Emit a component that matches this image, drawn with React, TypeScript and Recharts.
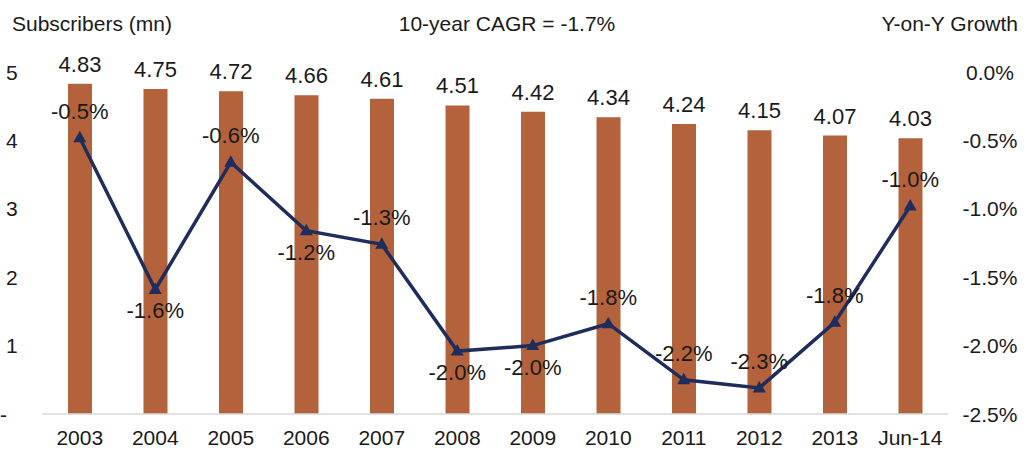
import { ComposedChart, Bar, Line, XAxis, YAxis, LabelList } from "recharts";

// --- Data ---
const years = ["2003", "2004", "2005", "2006", "2007", "2008", "2009", "2010", "2011", "2012", "2013", "Jun-14"];
const subscribers = [4.83, 4.75, 4.72, 4.66, 4.61, 4.51, 4.42, 4.34, 4.24, 4.15, 4.07, 4.03];
const growth = [-0.48, -1.59, -0.66, -1.16, -1.26, -2.04, -2.0, -1.84, -2.25, -2.31, -1.83, -0.98];
const growthLabels = ["-0.5%", "-1.6%", "-0.6%", "-1.2%", "-1.3%", "-2.0%", "-2.0%", "-1.8%", "-2.2%", "-2.3%", "-1.8%", "-1.0%"];
const leftTicks = [0, 1, 2, 3, 4, 5];
const rightTicks = [0, -0.5, -1, -1.5, -2, -2.5];

const FONT = '"Liberation Sans", Arial, sans-serif';
const BAR = "#B4623B";
const NAVY = "#1F2D5C";
const TEXT = "#1a1a1a";

// growth labels drawn under the point instead of above
const BELOW = new Set(["2004", "2006", "2008", "2009"]);

const rows = years.map((y, i) => ({
  year: y,
  subs: subscribers[i],
  growth: growth[i],
  growthLabel: growthLabels[i],
}));

function LeftTick({ y, payload }: any) {
  const v = payload.value;
  return (
    <text x={v === 0 ? 0 : 6} y={y} dy="0.36em" fontSize={21} fontFamily={FONT} fill={TEXT}>
      {v === 0 ? "-" : v}
    </text>
  );
}

function RightTick({ y, payload }: any) {
  return (
    <text x={990} y={y} dy="0.36em" textAnchor="middle" fontSize={21} fontFamily={FONT} fill={TEXT}>
      {payload.value.toFixed(1) + "%"}
    </text>
  );
}

function BottomTick({ x, payload }: any) {
  return (
    <text x={x} y={445} textAnchor="middle" fontSize={21} fontFamily={FONT} fill={TEXT}>
      {payload.value}
    </text>
  );
}

function Triangle({ cx, cy }: any) {
  if (cx == null || cy == null) return null;
  return <polygon points={`${cx},${cy - 7} ${cx - 6.5},${cy + 4.5} ${cx + 6.5},${cy + 4.5}`} fill={NAVY} />;
}

function BarValue({ x, y, width, value }: any) {
  return (
    <text x={x + width / 2} y={y - 20} dy="0.36em" textAnchor="middle" fontSize={22} fontFamily={FONT} fill={TEXT}>
      {Number(value).toFixed(2)}
    </text>
  );
}

function GrowthValue({ x, y, index }: any) {
  const r = rows[index];
  const below = BELOW.has(r.year);
  return (
    <text x={x} y={below ? y + 21 : y - 27} dy="0.36em" textAnchor="middle" fontSize={22} fontFamily={FONT} fill={TEXT}>
      {r.growthLabel}
    </text>
  );
}

const titleStyle = {
  position: "absolute" as const,
  top: 13,
  fontSize: 21,
  lineHeight: "21px",
  fontFamily: FONT,
  color: TEXT,
  whiteSpace: "nowrap" as const,
};

export default function App() {
  return (
    <div style={{ position: "absolute", left: 0, top: 0, width: 1030, height: 450, background: "#fff" }}>
      <ComposedChart
        width={1030}
        height={450}
        data={rows}
        margin={{ top: 72, right: 0, bottom: 0, left: 0 }}
        barCategoryGap={0}
      >
        <XAxis
          dataKey="year"
          height={36}
          tickLine={false}
          axisLine={{ stroke: "#d9d9d9", strokeWidth: 1.5 }}
          tick={<BottomTick />}
          interval={0}
        />
        <YAxis
          yAxisId="left"
          width={42}
          domain={[0, 5]}
          ticks={leftTicks}
          axisLine={false}
          tickLine={false}
          tick={<LeftTick />}
        />
        <YAxis
          yAxisId="right"
          orientation="right"
          width={82}
          domain={[-2.5, 0]}
          ticks={rightTicks}
          axisLine={false}
          tickLine={false}
          tick={<RightTick />}
        />
        <Bar yAxisId="left" dataKey="subs" fill={BAR} barSize={24} isAnimationActive={false}>
          <LabelList dataKey="subs" content={<BarValue />} />
        </Bar>
        <Line
          yAxisId="right"
          dataKey="growth"
          stroke={NAVY}
          strokeWidth={3.5}
          dot={<Triangle />}
          activeDot={false}
          isAnimationActive={false}
        >
          <LabelList dataKey="growth" content={<GrowthValue />} />
        </Line>
      </ComposedChart>
      <div style={{ ...titleStyle, left: 12 }}>Subscribers (mn)</div>
      <div style={{ ...titleStyle, left: 507, transform: "translateX(-50%)" }}>10-year CAGR = -1.7%</div>
      <div style={{ ...titleStyle, right: 12 }}>Y-on-Y Growth</div>
    </div>
  );
}
